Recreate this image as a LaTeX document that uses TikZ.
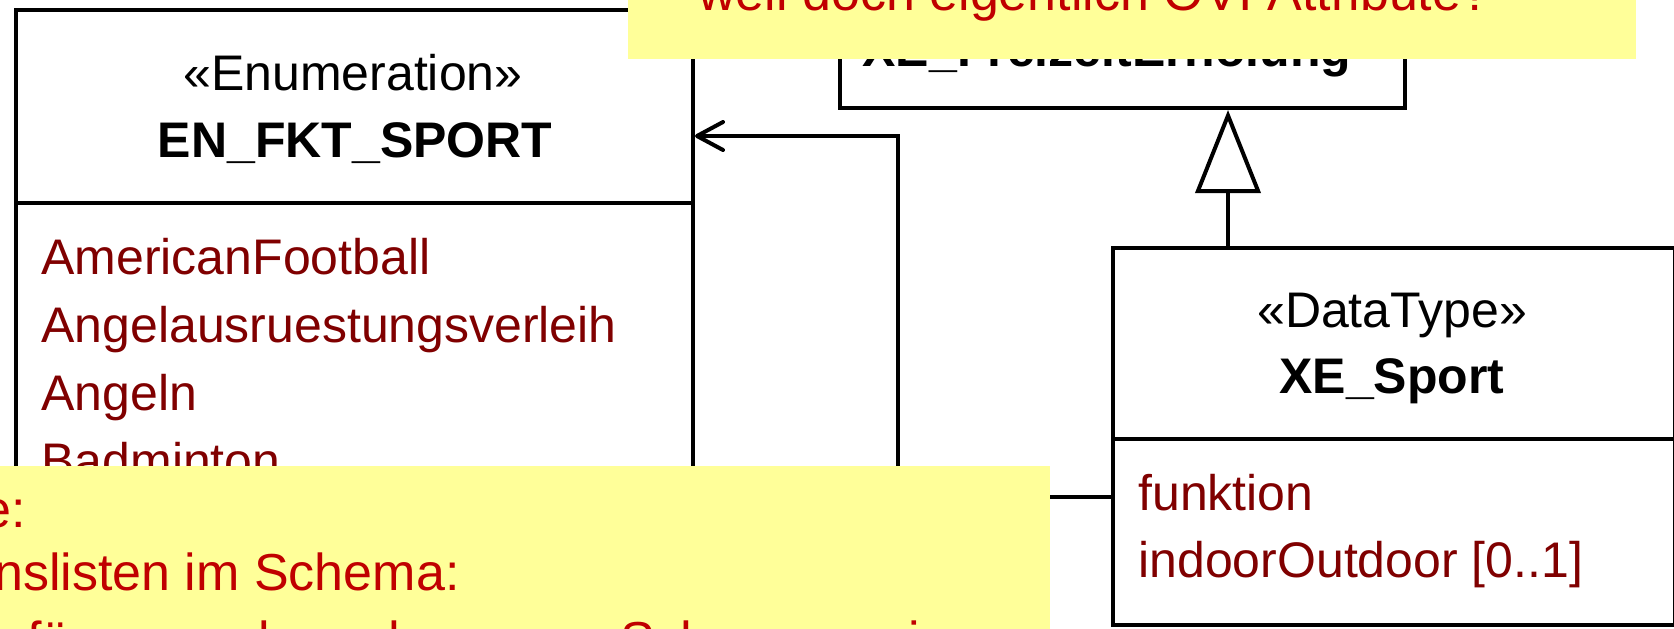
\documentclass[tikz,border=0pt]{standalone}
\usepackage{fontspec}
\setmainfont{Liberation Sans}
\usetikzlibrary{arrows.meta}
\definecolor{notebg}{RGB}{255,255,153}
\definecolor{notered}{RGB}{192,0,0}
\definecolor{attrred}{RGB}{128,0,0}
\tikzset{
umlbox/.style={draw, line width=2pt, fill=white, inner sep=0pt},
stereo/.style={anchor=base, inner sep=0pt, font=\fontsize{25pt}{30pt}\selectfont},
classname/.style={anchor=base, inner sep=0pt, font=\fontsize{25pt}{30pt}\selectfont\bfseries},
attr/.style={anchor=base west, inner sep=0pt, text=attrred, font=\fontsize{25pt}{30pt}\selectfont},
note/.style={fill=notebg, inner sep=0pt},
notetext/.style={inner sep=0pt, text=notered, font=\fontsize{26pt}{31pt}\selectfont},
}

\begin{document}
\begin{tikzpicture}[x=0.5pt,y=-0.5pt]
\clip (0,0) rectangle (1674,628);
\fill[white] (0,0) rectangle (1674,628);

% enumeration
\node[umlbox, anchor=north west, minimum width=338.5pt, minimum height=346pt] (enum) at (14,8) {};
\draw[line width=2pt] (14,203) -- (691,203);
\node[stereo] (enumst) at (353,90) {«Enumeration»};
\node[classname] (enumname) at (355,157) {EN\_FKT\_SPORT};
\node[attr] (a1) at (41,274) {AmericanFootball};
\node[attr] (a2) at (41,342) {Angelausruestungsverleih};
\node[attr] (a3) at (41,410) {Angeln};
\node[attr] (a4) at (41,478) {Badminton};

% supertype
\node[umlbox, anchor=south west, minimum width=282.5pt, minimum height=100pt] (prot) at (838,110) {};
\node[classname] (protname) at (1107,66) {XE\_FreizeitErholung};

% datatype
\node[umlbox, anchor=north west, minimum width=281pt, minimum height=188.5pt] (sport) at (1111,246) {};
\draw[line width=2pt] (1111,439) -- (1673,439);
\node[stereo] (sportst) at (1392,327) {«DataType»};
\node[classname] (sportname) at (1392,393) {XE\_Sport};
\node[attr] (b1) at (1138,510) {funktion};
\node[attr] (b2) at (1138,577) {indoorOutdoor [0..1]};

% connectors
\coordinate (genx) at (1228,0);
\coordinate (funkrow) at (0,497);
\coordinate (enumrow) at (0,136);
\coordinate (bendx) at (898,0);
\draw[line width=2pt, -{Triangle[open, fill=white, length=41.5pt, width=32.5pt]}] (sport.north -| genx) -- (prot.south -| genx);
\draw[line width=2pt, -{Straight Barb[length=13pt, width=14pt, round]}] (sport.west |- funkrow) -- (bendx |- funkrow) -- (bendx |- enumrow) -- (enum.east |- enumrow);

% notes
\node[note, anchor=south west, minimum width=504pt, minimum height=50pt] (topnote) at (628,59) {};
\node[notetext, anchor=base west] (toptext) at (698,10) {weil doch eigentlich OVI Attribute?};
\node[note, anchor=north west, minimum width=530pt, minimum height=100pt] (botnote) at (-10,466) {};
\node[notetext, anchor=base east] (line1) at (26,527) {Hinweise:};
\node[notetext, anchor=base east] (line2) at (460,590) {Enumerationslisten im Schema:};
\node[notetext, anchor=base east] (line3) at (979,658) {Hinzufügungen brauchen neue Schemaversion};

\end{tikzpicture}
\end{document}
